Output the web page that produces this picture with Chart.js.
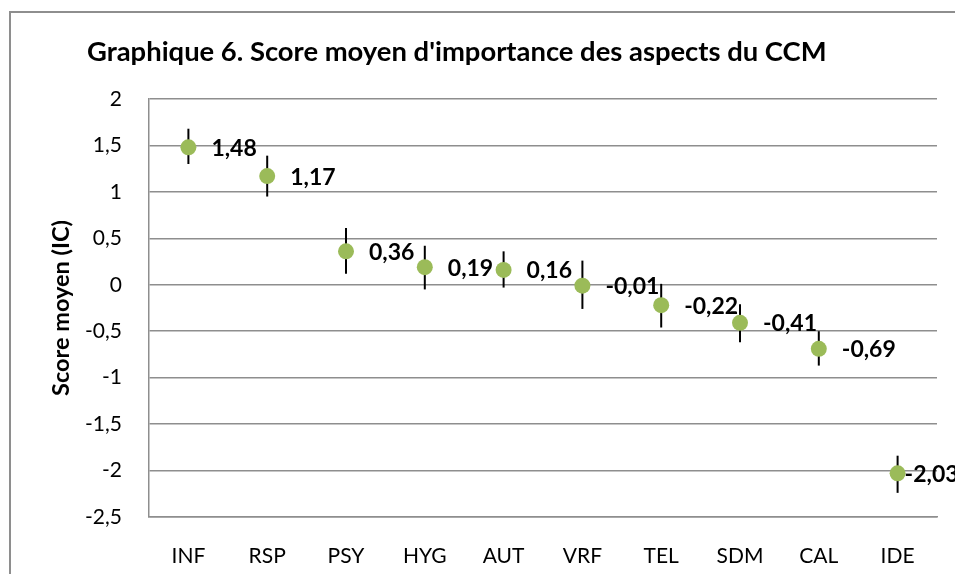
<!DOCTYPE html>
<html>
<head>
<meta charset="utf-8">
<script src="https://cdn.jsdelivr.net/npm/chart.js@4.4.1/dist/chart.umd.min.js"></script>
<style>
    html, body { margin: 0; padding: 0; background: #ffffff; }
    #wrap { width: 955px; height: 574px; }
</style>
</head>
<body>
<div id="wrap"><canvas id="scoreChart" width="955" height="574"></canvas></div>
<script>
const categories = ['INF', 'RSP', 'PSY', 'HYG', 'AUT', 'VRF', 'TEL', 'SDM', 'CAL', 'IDE'];
const meanScores = [1.48, 1.17, 0.36, 0.19, 0.16, -0.01, -0.22, -0.41, -0.69, -2.03];
const ciUpper = [1.68, 1.39, 0.61, 0.42, 0.36, 0.26, 0.01, -0.21, -0.50, -1.84];
const ciLower = [1.30, 0.95, 0.12, -0.05, -0.03, -0.26, -0.46, -0.62, -0.87, -2.24];
const yTicks = [2, 1.5, 1, 0.5, 0, -0.5, -1, -1.5, -2, -2.5];
const chartTitle = "Graphique 6. Score moyen d'importance des aspects du CCM";

const fontName = 'Lato, "Open Sans", sans-serif';
const gridGray = '#8e8e8e';

function toFr(v) {
    return String(v).replace('.', ',');
}

// outer frame + title (title drawn by hand so it sits left like the original)
const framePlugin = {
    id: 'frame',
    beforeDraw(chart) {
        const ctx = chart.ctx;
        ctx.save();
        ctx.strokeStyle = gridGray;
        ctx.lineWidth = 2;
        ctx.strokeRect(10, 12, 1000, 1000);
        ctx.font = 'bold 27.4px ' + fontName;
        ctx.fillStyle = '#000000';
        ctx.textAlign = 'left';
        ctx.textBaseline = 'alphabetic';
        ctx.fillText(chartTitle, 87, 61);
        ctx.restore();
    }
};

// vertical confidence interval bars
const errorBarPlugin = {
    id: 'errorBars',
    beforeDatasetsDraw(chart) {
        const ctx = chart.ctx;
        const y = chart.scales.y;
        const meta = chart.getDatasetMeta(0);
        ctx.save();
        ctx.strokeStyle = '#000000';
        ctx.lineWidth = 2;
        meta.data.forEach(function (pt, i) {
            ctx.beginPath();
            ctx.moveTo(pt.x, y.getPixelForValue(ciUpper[i]));
            ctx.lineTo(pt.x, y.getPixelForValue(ciLower[i]));
            ctx.stroke();
        });
        ctx.restore();
    }
};

// bold value labels to the right of each point
const valueLabelPlugin = {
    id: 'valueLabels',
    afterDatasetsDraw(chart) {
        const ctx = chart.ctx;
        const meta = chart.getDatasetMeta(0);
        ctx.save();
        ctx.font = 'bold 23px ' + fontName;
        ctx.fillStyle = '#000000';
        ctx.textAlign = 'left';
        ctx.textBaseline = 'middle';
        meta.data.forEach(function (pt, i) {
            const text = meanScores[i].toFixed(2).replace('.', ',');
            let x = pt.x + 23;
            if (x + ctx.measureText(text).width > chart.chartArea.right + 10) {
                x = pt.x + 7;
            }
            ctx.fillText(text, x, pt.y + 1);
        });
        ctx.restore();
    }
};

const ctx = document.getElementById('scoreChart').getContext('2d');

const scoreChart = new Chart(ctx, {
    type: 'line',
    data: {
        labels: categories,
        datasets: [{
            label: 'Score moyen',
            data: meanScores,
            showLine: false,
            pointRadius: 8,
            pointHoverRadius: 8,
            pointBackgroundColor: '#9bbb59',
            pointBorderColor: '#9bbb59',
            pointBorderWidth: 0
        }]
    },
    options: {
        responsive: false,
        animation: false,
        events: [],
        layout: {
            padding: { left: 0, right: 18, top: 99, bottom: 0 }
        },
        plugins: {
            legend: { display: false },
            tooltip: { enabled: false },
            title: { display: false }
        },
        scales: {
            x: {
                type: 'category',
                offset: true,
                grid: { display: false, drawTicks: false },
                border: { display: true, color: gridGray, width: 1.5 },
                ticks: {
                    color: '#000000',
                    padding: 27,
                    font: { family: fontName, size: 21 }
                },
                afterFit(scale) {
                    scale.height = 57;
                }
            },
            y: {
                min: -2.5,
                max: 2,
                afterBuildTicks(scale) {
                    scale.ticks = yTicks.map(v => ({ value: v }));
                },
                grid: { color: gridGray, lineWidth: 1.5, drawTicks: false },
                border: { display: true, color: gridGray, width: 1.5 },
                ticks: {
                    color: '#000000',
                    padding: 27,
                    font: { family: fontName, size: 21 },
                    callback: function (value) {
                        return toFr(value);
                    }
                },
                title: {
                    display: true,
                    text: 'Score moyen (IC)',
                    color: '#000000',
                    font: { family: fontName, size: 23.5, weight: 'bold', lineHeight: 1.2 },
                    padding: { top: 47, bottom: 0 }
                },
                afterFit(scale) {
                    scale.width = 149;
                }
            }
        }
    },
    plugins: [framePlugin, errorBarPlugin, valueLabelPlugin]
});
</script>
</body>
</html>
